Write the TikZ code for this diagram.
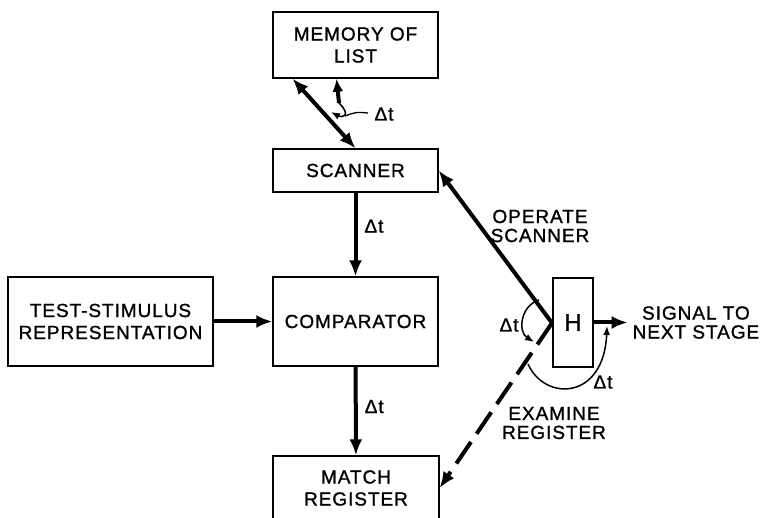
\documentclass[tikz,border=0pt]{standalone}
\usepackage{fontspec}
\setmainfont{Liberation Sans}[LetterSpace=5,FakeBold=1.2]
\usetikzlibrary{arrows.meta}

\begin{document}
\begin{tikzpicture}[x=1pt,y=-1pt,
		box/.style={draw, line width=1.3pt, inner sep=0pt, align=center, font=\fontsize{19}{22}\selectfont},
		lbl/.style={inner sep=0pt, align=center, font=\fontsize{19}{19}\selectfont},
		flow/.style={line width=4pt, -{Latex[length=16pt,width=13pt]}},
		tick/.style={line width=1.5pt, -{Latex[length=9pt,width=7pt]}}]
		\useasboundingbox (0,0) rectangle (771,518);
		% stages
		\node[box, minimum width=165pt, minimum height=66pt] (mem) at (355.5,45) {MEMORY OF\\LIST};
		\node[box, minimum width=165pt, minimum height=43pt] (scan) at (355.5,170.5) {SCANNER};
		\node[box, minimum width=165pt, minimum height=89pt] (comp) at (355.5,321.5) {COMPARATOR};
		\node[box, minimum width=205pt, minimum height=89pt] (test) at (110.5,321.5) {TEST-STIMULUS\\REPRESENTATION};
		\node[box, minimum width=166pt, minimum height=64pt] (match) at (356,488) {MATCH\\REGISTER};
		\node[box, minimum width=40pt, minimum height=89pt, font=\fontsize{24}{24}\selectfont] (hbox) at (573,322.5) {H};
		\coordinate (j) at (552,323);

		\draw[flow] (scan) -- (comp) node[lbl, pos=.4, right=7pt] {Δt};
		\draw[flow] (comp) -- (match) node[lbl, pos=.45, right=7pt] {Δt};
		\draw[flow] (test) -- (comp);
		% scanner and memory
		\draw[flow, {Latex[length=16pt,width=13pt]}-{Latex[length=16pt,width=13pt]}] ([xshift=-63pt]mem.south) -- (scan.north);
		\draw[flow, -{Latex[length=13pt,width=11pt]}] (339,103) -- ([xshift=-19pt]mem.south);
		\draw[tick] (339,103) .. controls (352,116) and (342,118) .. (331,112);
		\draw[line width=1.3pt] (345,116) .. controls (356,112) .. (368,113);
		\node[lbl] (dtm) at (384,114) {Δt};
		% control lines from H
		\draw[flow] (j) -- (scan.east);
		\draw[flow, dash pattern=on 26pt off 10pt] (j) -- (match.east);
		\node[lbl] (op) at (540,226) {OPERATE\\SCANNER};
		\node[lbl] (ex) at (554,423) {EXAMINE\\REGISTER};
		\draw[tick] (539,300) .. controls (520,306) and (518,332) .. (534,342);
		\node[lbl] (dtl) at (509,325) {Δt};
		\draw[tick] (528,364) .. controls (545,402) and (604,400) .. (607,326);
		\node[lbl] (dtr) at (603,382) {Δt};
		\draw[flow] (hbox.east) -- ++(34,0) node[lbl, anchor=west, xshift=3pt] (sig) {SIGNAL TO\\NEXT STAGE};
\end{tikzpicture}
\end{document}
